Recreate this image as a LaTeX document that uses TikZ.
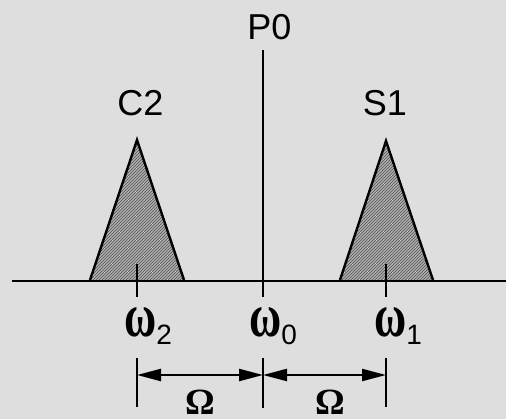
\documentclass[tikz,border=0pt]{standalone}
\usepackage{fontspec}
\setmainfont{Liberation Sans}
\newfontfamily\grk{Liberation Serif}
\usetikzlibrary{arrows.meta}
\definecolor{bg}{gray}{0.87}
\definecolor{hatchbg}{gray}{0.74}
\definecolor{hatchln}{gray}{0.38}
\newcommand{\omg}[1]{{\grk\bfseries\fontsize{44}{44}\selectfont\scalebox{1}[1.4]{ω}}\raisebox{-8pt}{\fontsize{28}{28}\selectfont #1}}
\begin{document}
\begin{tikzpicture}[x=1pt,y=-1pt,
  ln/.style={line width=2.4pt,black},
  lbl/.style={inner sep=0pt,anchor=base,font=\fontsize{36}{36}\selectfont},
  om/.style={inner sep=0pt,anchor=base west},
  dim/.style={line width=2.2pt,{Triangle[length=24pt,width=12pt]}-{Triangle[length=24pt,width=12pt]}},
  hatch/.style={line width=0.9pt,hatchln}]
\fill[bg] (0,0) rectangle (506,419);
\useasboundingbox (0,0) rectangle (506,419);
% triangles (hatched)
\coordinate (L1) at (90,280); \coordinate (L2) at (137,140); \coordinate (L3) at (184,280);
\coordinate (R1) at (340,280); \coordinate (R2) at (386,141); \coordinate (R3) at (433,280);
\begin{scope}
  \clip (L1) -- (L2) -- (L3) -- cycle (R1) -- (R2) -- (R3) -- cycle;
  \fill[hatchbg] (0,0) rectangle (506,300);
  \foreach \i in {-160,-157,...,500} \draw[hatch] (\i,290) -- (\i+160,130);
\end{scope}
\draw[ln,line join=miter] (L1) -- (L2) -- (L3);
\draw[ln,line join=miter] (R1) -- (R2) -- (R3);
% axis
\coordinate (A0) at (12,281); \coordinate (A1) at (506,281);
\draw[ln] (A0) -- (A1);
% P0 line and ticks
\coordinate (P0t) at (263,50); \coordinate (P0b) at (263,297);
\draw[ln] (P0t) -- (P0b);
\coordinate (T2t) at (137,264); \coordinate (T2b) at (137,297);
\coordinate (T1t) at (386,264); \coordinate (T1b) at (386,297);
\draw[ln] (T2t) -- (T2b);
\draw[ln] (T1t) -- (T1b);
% labels
\node[lbl] (p0) at (269.5,40) {P0};
\node[lbl] (c2) at (140.5,116) {C2};
\node[lbl] (s1) at (385,116) {S1};
\node[om] (w2) at (124,337) {\omg{2}};
\node[om] (w0) at (249,337) {\omg{0}};
\node[om] (w1) at (374,337) {\omg{1}};
% dimension lines
\coordinate (D2t) at (137,358); \coordinate (D2b) at (137,407);
\coordinate (D0t) at (263,358); \coordinate (D0b) at (263,408);
\coordinate (D1t) at (386,358); \coordinate (D1b) at (386,407);
\draw[ln] (D2t) -- (D2b);
\draw[line width=1.6pt] (D0t) -- (D0b);
\draw[ln] (D1t) -- (D1b);
\coordinate (E2) at (137,375); \coordinate (E0) at (263,375); \coordinate (E1) at (386,375);
\draw[dim] (E2) -- (E0);
\draw[dim] (E0) -- (E1);
\node[inner sep=0pt,anchor=base] (O1) at (200,414) {\grk\bfseries\fontsize{37}{37}\selectfont Ω};
\node[inner sep=0pt,anchor=base] (O2) at (330,414) {\grk\bfseries\fontsize{37}{37}\selectfont Ω};
\end{tikzpicture}
\end{document}
